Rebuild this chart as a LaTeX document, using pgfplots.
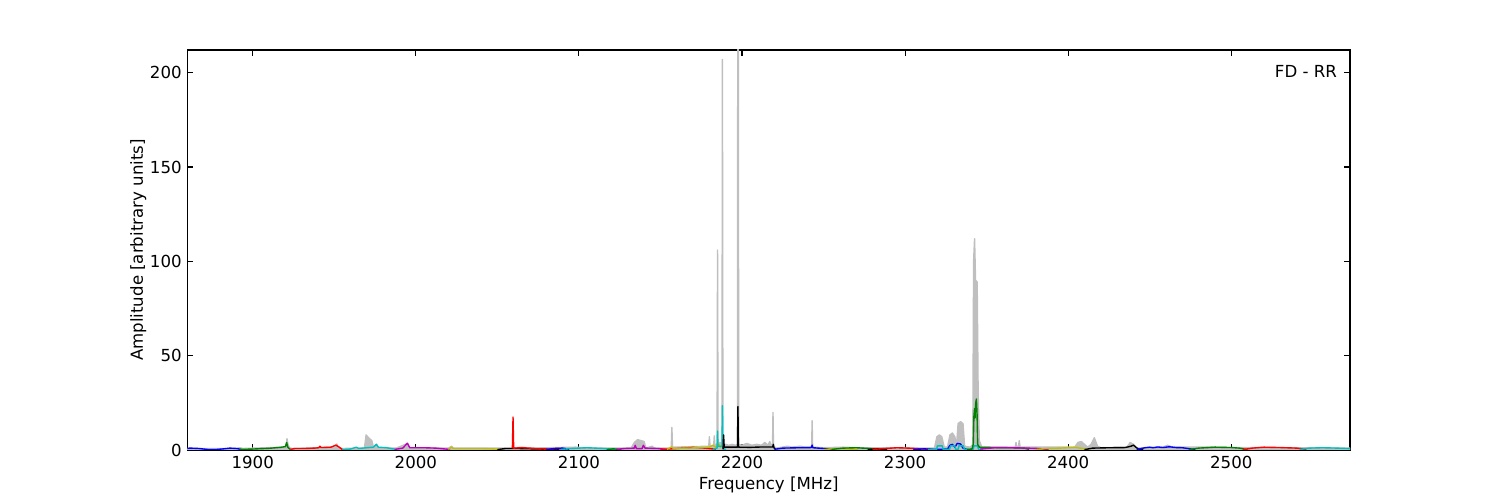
\documentclass[border=0pt,12pt]{standalone}
\usepackage{pgfplots}
\pgfplotsset{compat=1.18}
\usepackage{fontspec}
\setmainfont{DejaVu Sans}
\definecolor{mb}{rgb}{0,0,1}
\definecolor{mg}{rgb}{0,0.5,0}
\definecolor{mr}{rgb}{1,0,0}
\definecolor{mc}{rgb}{0,0.75,0.75}
\definecolor{mm}{rgb}{0.75,0,0.75}
\definecolor{my}{rgb}{0.75,0.75,0}
\definecolor{mk}{rgb}{0,0,0}
\definecolor{silver}{rgb}{0.75,0.75,0.75}
\begin{document}
\begin{tikzpicture}[x=0.7227pt,y=0.7227pt]
\useasboundingbox (-187.5,-50) rectangle (1312.5,450);
\begin{axis}[
  at={(0,0)}, anchor=south west,
  scale only axis, width=840.14pt, height=289.08pt,
  xmin=1860, xmax=2572.8, ymin=0, ymax=212,
  xtick={1900,2000,2100,2200,2300,2400,2500},
  ytick={0,50,100,150,200},
  tick align=inside, major tick length=4pt,
  axis line style={line width=1pt}, every tick/.style={black, line width=0.8pt},
  /pgf/number format/assume math mode=true,
  /pgf/number format/set thousands separator={},
  tick label style={font=\fontsize{12}{14}\selectfont},
  label style={font=\fontsize{12}{14}\selectfont},
  xlabel={Frequency [MHz]}, ylabel={Amplitude [arbitrary units]},
  xlabel style={yshift=2pt}, ylabel style={yshift=-5.5pt},
  clip=true,
  every axis plot/.append style={line width=1pt, line join=round},
]
\addplot[fill=silver, draw=silver, line width=1pt] coordinates {
(1857,0.8)(1890,0.8)(1892,1.2)(1894,0.8)(1919,1.5)(1920.6,1.8)(1921,6)(1921.6,3)(1922.5,1.2)(1924,0.8)(1950.5,1.5)(1951.5,3.2)(1952.5,1.5)(1955,0.8)(1968.5,1)(1969.5,8)(1971,6.5)(1973,5)(1974,1.5)(1976,3)(1977,1.2)(1988,1)(1995,3.5)(1996,1.2)(2020,1)(2022,2)(2023,1)(2060,1)(2065,1.5)(2070,1)(2098,1.5)(2105,1)(2132,1)(2134,4)(2136,5.5)(2138,5)(2140,4.5)(2141,1)(2145,2)(2146,1)(2156.6,1)(2157,12)(2157.4,1.5)(2179.6,2)(2180,7)(2180.4,2)(2182.6,2)(2183,7.5)(2183.4,2.5)(2184.7,3)(2185,106)(2185.3,4)(2187.7,4)(2188,207)(2188.3,3)(2190,3)(2192,2.5)(2194,3)(2196,2.5)(2197.2,3)(2197.4,240)(2197.7,240)(2198,3)(2200,2.5)(2203,3.5)(2206,2.5)(2209,3)(2212,2.5)(2214,4)(2216,2.5)(2217,4.5)(2218,2)(2218.7,2)(2219,20)(2219.3,2)(2221,1)(2228,2)(2230,1.5)(2236,2)(2238,1.5)(2242.7,1.5)(2243,15.5)(2243.3,1.5)(2250,1.2)(2262,1.5)(2270,1.2)(2318,1)(2319.5,7)(2321,8)(2322.5,7)(2324,1.5)(2326,1.5)(2327.5,8)(2329,9)(2330.5,7)(2331.5,2)(2332.5,14)(2334,15)(2335.5,14)(2336.5,2)(2340,1.5)(2341.5,3)(2342,100)(2342.6,112)(2343.2,90)(2344.2,89)(2344.8,30)(2345.5,5)(2347,1.5)(2367.5,1.5)(2368,4)(2368.5,1.5)(2369.5,1.5)(2370,5)(2370.5,1.5)(2404,1.5)(2406,4)(2408,4.5)(2410,3)(2412,1.5)(2414,3)(2416,6.5)(2418,2)(2420,1.2)(2436,1.5)(2438,4)(2440,3)(2442,1)(2458,1.5)(2461,2.5)(2464,1.5)(2490,1.5)(2500,1.3)(2573,1)
} \closedcycle;
% band curves
\addplot[mb] coordinates {(1857,0.8)(1862,1.0)(1867,0.8)(1872,0.3)(1877,0.2)(1882,0.6)(1886,1.0)(1890,0.8)(1893,0.3)};
\addplot[mg] coordinates {(1892,0.3)(1900,0.5)(1910,0.9)(1917,1.4)(1920,1.8)(1920.8,4)(1921.5,1.5)(1923,0.3)};
\addplot[mr] coordinates {(1923,0.3)(1926,0.8)(1932,0.8)(1938,1.0)(1940.5,1.2)(1941.2,2.0)(1942,1.3)(1948,1.5)(1951,2.6)(1953,1.5)(1955,0.2)};
\addplot[mc] coordinates {(1955,0.2)(1960,0.5)(1963.5,1.5)(1965,0.8)(1970,1.2)(1974,1.5)(1975.8,3)(1977,1.5)(1982,1.2)(1988,0.3)};
\addplot[mm] coordinates {(1987,0.3)(1992,1.0)(1994.8,3.6)(1996.3,1.2)(2005,1.2)(2012,1.0)(2021,0.3)};
\addplot[my] coordinates {(2020,0.3)(2021.8,1.5)(2023,0.8)(2030,0.8)(2040,0.8)(2048,0.6)(2053,0.2)};
\addplot[mk] coordinates {(2050,0.2)(2055,0.8)(2062,0.8)(2072,0.6)(2082,0.4)(2088,0.2)};
\addplot[mr] coordinates {(2059.2,0.8)(2059.6,17.5)(2060,1.0)(2065,1.2)(2070,1.0)(2076,0.6)(2081,0.4)(2087,0.8)(2092,0.3)};
\addplot[mb] coordinates {(2080,0.2)(2085,0.8)(2090,1.0)(2094,0.4)};
\addplot[mc] coordinates {(2089,0.3)(2095,0.8)(2105,1.2)(2115,0.8)(2123,0.3)};
\addplot[mg] coordinates {(2117,0.2)(2121,0.6)(2126,0.3)};
\addplot[mm] coordinates {(2123,0.3)(2128,0.8)(2134,1.0)(2134.5,2.5)(2135.3,0.7)(2138.7,0.7)(2139.5,2.5)(2140.5,1.0)(2148,0.8)(2155,0.3)};
\addplot[mr] coordinates {(2150,0.2)(2160,0.8)(2170,1.4)(2178,0.9)(2184,0.4)};
\addplot[my] coordinates {(2154,0.3)(2156.8,1.6)(2158,0.8)(2165,1.0)(2175,1.2)(2180,1.5)(2182,2.5)(2184,1.5)(2186,3)(2187,1.0)};
\addplot[mc] coordinates {(2182,0.2)(2184.7,1)(2185,10)(2185.3,2)(2187.7,2)(2188,23.5)(2188.3,1)(2190,0.2)};
\addplot[mk] coordinates {(2188.4,0.3)(2188.7,8)(2189.1,1.5)(2193,1.5)(2197.2,1.5)(2197.5,23)(2197.8,1.5)(2205,1.4)(2212,1.6)(2218.8,1.6)(2219.2,3)(2219.6,1.2)(2220.5,0.3)};
\addplot[mb] coordinates {(2220,0.4)(2225,1.0)(2235,1.2)(2242.5,1.3)(2243,2.6)(2243.5,1.2)(2250,0.8)(2256,0.2)};
\addplot[my] coordinates {(2250,0.2)(2258,0.8)(2266,0.5)(2271,0.2)};
\addplot[mg] coordinates {(2255,0.3)(2262,1.0)(2270,1.2)(2278,0.8)(2284,0.2)};
\addplot[mk] coordinates {(2277,0.2)(2283,0.6)(2289,0.2)};
\addplot[mr] coordinates {(2280,0.3)(2288,0.8)(2295,1.2)(2302,1.0)(2310,0.6)(2317,0.3)};
\addplot[mb] coordinates {(2305,0.3)(2312,0.6)(2318,0.3)(2326,0.5)(2327.5,2.5)(2329,3.0)(2330.5,1.5)(2332,3.5)(2334,3.2)(2335.5,1.0)(2338,0.3)};
\addplot[mc] coordinates {(2314,0.2)(2319.3,0.3)(2319.8,2.2)(2322.8,2.2)(2323.3,0.3)(2327.3,0.3)(2327.8,2.2)(2330.5,2.2)(2331,0.3)(2332.5,0.3)(2333,2.2)(2335.8,2.2)(2336.3,0.3)(2341.8,0.3)(2342.2,2.2)(2344.5,2.2)(2345,0.3)(2348,0.3)};
\addplot[mg] coordinates {(2338,0.3)(2341,0.5)(2341.8,3)(2342.2,18)(2342.6,22)(2342.9,17)(2343.3,25)(2343.7,27)(2344.1,20)(2344.5,3)(2345.5,1.5)(2355,1.3)(2365,1.2)(2373,1)(2376,0.3)};
\addplot[mm] coordinates {(2346,0.5)(2355,1.2)(2365,1.2)(2375,1.0)(2382,0.8)(2388,0.2)};
\addplot[my] coordinates {(2380,0.2)(2386,0.8)(2395,1.0)(2404,1.4)(2409,0.8)(2413,0.2)};
\addplot[mk] coordinates {(2410,0.2)(2415,1.0)(2425,1.2)(2435,1.3)(2438.5,2)(2440,2.6)(2441.5,1.5)(2443,0.5)(2446,0.2)};
\addplot[mb] coordinates {(2442,0.2)(2447,1.2)(2450,1.5)(2452,1.2)(2455,1.6)(2458,1.3)(2462,1.7)(2466,1.3)(2470,1.2)(2478,0.2)};
\addplot[mg] coordinates {(2474,0.2)(2480,1.0)(2490,1.5)(2500,1.3)(2505,1.0)(2510,0.2)};
\addplot[mr] coordinates {(2507,0.2)(2513,1.0)(2520,1.5)(2530,1.3)(2540,1.0)(2546,0.3)};
\addplot[mc] coordinates {(2542,0.3)(2548,1.0)(2556,1.2)(2565,1.0)(2573,0.7)};
\node[anchor=north east, font=\fontsize{12}{14}\selectfont, inner sep=0pt] at (rel axis cs:0.989,0.963) {FD - RR};
\end{axis}
\end{tikzpicture}
\end{document}
